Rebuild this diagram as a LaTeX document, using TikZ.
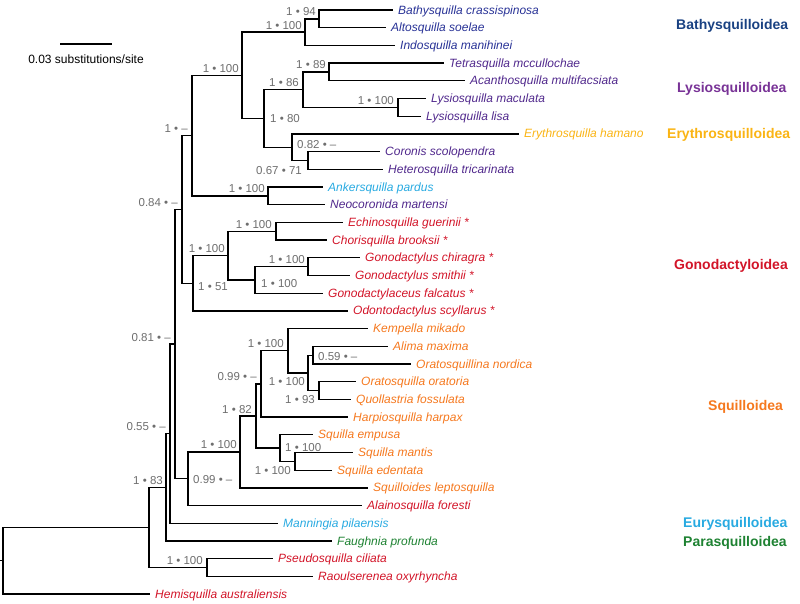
\documentclass[tikz,border=0pt]{standalone}
\usepackage{fontspec}
\setmainfont{Liberation Sans}
\usetikzlibrary{calc}
\definecolor{supgray}{RGB}{110,110,110}
\definecolor{bathyleaf}{RGB}{40,50,150}
\definecolor{bathylab}{RGB}{25,65,130}
\definecolor{lysioleaf}{RGB}{80,40,140}
\definecolor{lysiolab}{RGB}{120,50,150}
\definecolor{erythro}{RGB}{250,180,20}
\definecolor{skyb}{RGB}{40,170,225}
\definecolor{gonored}{RGB}{210,20,40}
\definecolor{squorange}{RGB}{245,120,30}
\definecolor{paragreen}{RGB}{30,130,50}
\begin{document}
\begin{tikzpicture}[x=1pt,y=-1pt,
  br/.style={line width=1.3pt},
  leaf/.style={font=\fontsize{12}{14}\selectfont\itshape, inner sep=0pt, anchor=base west},
  sup/.style={font=\fontsize{11.5}{13}\selectfont, text=supgray, inner sep=0pt},
  clade/.style={font=\fontsize{14}{16}\selectfont\bfseries, inner sep=0pt, anchor=base west}]
\useasboundingbox (0,0) rectangle (800,603);

% leaf line ends
\coordinate (l1) at (393,10);
\coordinate (l2) at (386,27.7);
\coordinate (l3) at (395,45.4);
\coordinate (l4) at (444,63.1);
\coordinate (l5) at (465,80.8);
\coordinate (l6) at (426,98.5);
\coordinate (l7) at (421,116.2);
\coordinate (l8) at (519,133.9);
\coordinate (l9) at (380,151.6);
\coordinate (l10) at (383,169.3);
\coordinate (l11) at (323,187);
\coordinate (l12) at (325,204.7);
\coordinate (l13) at (343,222.4);
\coordinate (l14) at (327,240.1);
\coordinate (l15) at (360,257.8);
\coordinate (l16) at (350,275.5);
\coordinate (l17) at (323,293.2);
\coordinate (l18) at (348,310.9);
\coordinate (l19) at (368,328.6);
\coordinate (l20) at (388,346.3);
\coordinate (l21) at (411,364);
\coordinate (l22) at (356,381.7);
\coordinate (l23) at (351,399.4);
\coordinate (l24) at (348,417.1);
\coordinate (l25) at (313,434.8);
\coordinate (l26) at (353,452.5);
\coordinate (l27) at (332,470.2);
\coordinate (l28) at (368,487.9);
\coordinate (l29) at (362,505.6);
\coordinate (l30) at (278,523.3);
\coordinate (l31) at (332,541);
\coordinate (l32) at (273,558.7);
\coordinate (l33) at (313,576.4);
\coordinate (l34) at (150,594.1);

% internal nodes
\coordinate (r0) at (0,560.8);
\coordinate (n3) at (3,560.8);
\coordinate (n149) at (149,527.45);
\coordinate (n207) at (207,567.55);
\coordinate (n166) at (166,487.35);
\coordinate (n170) at (170,433.7);
\coordinate (n175) at (175,344.1);
\coordinate (n182) at (182,209.4);
\coordinate (n192) at (192,135.55);
\coordinate (n242) at (242,75.25);
\coordinate (n305) at (305,32.1);
\coordinate (n319) at (319,18.85);
\coordinate (n264) at (264,118.4);
\coordinate (n303) at (303,89.65);
\coordinate (n329) at (329,71.95);
\coordinate (n398) at (398,107.35);
\coordinate (n292) at (292,147.2);
\coordinate (n308c) at (308,160.45);
\coordinate (n268) at (268,195.85);
\coordinate (n193) at (193,283.25);
\coordinate (n228) at (228,255.6);
\coordinate (n276) at (276,231.25);
\coordinate (n255b) at (255,279.9);
\coordinate (n308b) at (308,266.65);
\coordinate (n188) at (188,478.8);
\coordinate (n240) at (240,451.95);
\coordinate (n256) at (256,416);
\coordinate (n262) at (261,383.9);
\coordinate (n288) at (288,350.7);
\coordinate (n308) at (308,372.85);
\coordinate (n313) at (313,355.15);
\coordinate (n319b) at (319,390.55);
\coordinate (n280) at (280,448.1);
\coordinate (n295) at (295,461.35);

% branches
\draw[br] (r0) -- (n3);
\draw[br] (n3) |- (n149); \draw[br] (n3) |- (l34);
\draw[br] (n149) |- (n166); \draw[br] (n149) |- (n207);
\draw[br] (n207) |- (l32); \draw[br] (n207) |- (l33);
\draw[br] (n166) |- (n170); \draw[br] (n166) |- (l31);
\draw[br] (n170) |- (n175); \draw[br] (n170) |- (l30);
\draw[br] (n175) |- (n182); \draw[br] (n175) |- (n188);
\draw[br] (n182) |- (n192); \draw[br] (n182) |- (n193);
\draw[br] (n192) |- (n242); \draw[br] (n192) |- (n268);
\draw[br] (n242) |- (n305); \draw[br] (n242) |- (n264);
\draw[br] (n305) |- (n319); \draw[br] (n305) |- (l3);
\draw[br] (n319) |- (l1); \draw[br] (n319) |- (l2);
\draw[br] (n264) |- (n303); \draw[br] (n264) |- (n292);
\draw[br] (n303) |- (n329); \draw[br] (n303) |- (n398);
\draw[br] (n329) |- (l4); \draw[br] (n329) |- (l5);
\draw[br] (n398) |- (l6); \draw[br] (n398) |- (l7);
\draw[br] (n292) |- (l8); \draw[br] (n292) |- (n308c);
\draw[br] (n308c) |- (l9); \draw[br] (n308c) |- (l10);
\draw[br] (n268) |- (l11); \draw[br] (n268) |- (l12);
\draw[br] (n193) |- (n228); \draw[br] (n193) |- (l18);
\draw[br] (n228) |- (n276); \draw[br] (n228) |- (n255b);
\draw[br] (n276) |- (l13); \draw[br] (n276) |- (l14);
\draw[br] (n255b) |- (n308b); \draw[br] (n255b) |- (l17);
\draw[br] (n308b) |- (l15); \draw[br] (n308b) |- (l16);
\draw[br] (n188) |- (n240); \draw[br] (n188) |- (l29);
\draw[br] (n240) |- (n256); \draw[br] (n240) |- (l28);
\draw[br] (n256) |- (n262); \draw[br] (n256) |- (n280);
\draw[br] (n262) |- (n288); \draw[br] (n262) |- (l24);
\draw[br] (n288) |- (l19); \draw[br] (n288) |- (n308);
\draw[br] (n308) |- (n313); \draw[br] (n308) |- (n319b);
\draw[br] (n313) |- (l20); \draw[br] (n313) |- (l21);
\draw[br] (n319b) |- (l22); \draw[br] (n319b) |- (l23);
\draw[br] (n280) |- (l25); \draw[br] (n280) |- (n295);
\draw[br] (n295) |- (l26); \draw[br] (n295) |- (l27);

% leaf labels
\node[leaf,text=bathyleaf] (t1) at ($(l1)+(5,4)$) {Bathysquilla crassispinosa};
\node[leaf,text=bathyleaf] (t2) at ($(l2)+(5,4)$) {Altosquilla soelae};
\node[leaf,text=bathyleaf] (t3) at ($(l3)+(5,4)$) {Indosquilla manihinei};
\node[leaf,text=lysioleaf] (t4) at ($(l4)+(5,4)$) {Tetrasquilla mccullochae};
\node[leaf,text=lysioleaf] (t5) at ($(l5)+(5,4)$) {Acanthosquilla multifacsiata};
\node[leaf,text=lysioleaf] (t6) at ($(l6)+(5,4)$) {Lysiosquilla maculata};
\node[leaf,text=lysioleaf] (t7) at ($(l7)+(5,4)$) {Lysiosquilla lisa};
\node[leaf,text=erythro] (t8) at ($(l8)+(5,4)$) {Erythrosquilla hamano};
\node[leaf,text=lysioleaf] (t9) at ($(l9)+(5,4)$) {Coronis scolopendra};
\node[leaf,text=lysioleaf] (t10) at ($(l10)+(5,4)$) {Heterosquilla tricarinata};
\node[leaf,text=skyb] (t11) at ($(l11)+(5,4)$) {Ankersquilla pardus};
\node[leaf,text=lysioleaf] (t12) at ($(l12)+(5,4)$) {Neocoronida martensi};
\node[leaf,text=gonored] (t13) at ($(l13)+(5,4)$) {Echinosquilla guerinii *};
\node[leaf,text=gonored] (t14) at ($(l14)+(5,4)$) {Chorisquilla brooksii *};
\node[leaf,text=gonored] (t15) at ($(l15)+(5,4)$) {Gonodactylus chiragra *};
\node[leaf,text=gonored] (t16) at ($(l16)+(5,4)$) {Gonodactylus smithii *};
\node[leaf,text=gonored] (t17) at ($(l17)+(5,4)$) {Gonodactylaceus falcatus *};
\node[leaf,text=gonored] (t18) at ($(l18)+(5,4)$) {Odontodactylus scyllarus *};
\node[leaf,text=squorange] (t19) at ($(l19)+(5,4)$) {Kempella mikado};
\node[leaf,text=squorange] (t20) at ($(l20)+(5,4)$) {Alima maxima};
\node[leaf,text=squorange] (t21) at ($(l21)+(5,4)$) {Oratosquillina nordica};
\node[leaf,text=squorange] (t22) at ($(l22)+(5,4)$) {Oratosquilla oratoria};
\node[leaf,text=squorange] (t23) at ($(l23)+(5,4)$) {Quollastria fossulata};
\node[leaf,text=squorange] (t24) at ($(l24)+(5,4)$) {Harpiosquilla harpax};
\node[leaf,text=squorange] (t25) at ($(l25)+(5,4)$) {Squilla empusa};
\node[leaf,text=squorange] (t26) at ($(l26)+(5,4)$) {Squilla mantis};
\node[leaf,text=squorange] (t27) at ($(l27)+(5,4)$) {Squilla edentata};
\node[leaf,text=squorange] (t28) at ($(l28)+(5,4)$) {Squilloides leptosquilla};
\node[leaf,text=gonored] (t29) at ($(l29)+(5,4)$) {Alainosquilla foresti};
\node[leaf,text=skyb] (t30) at ($(l30)+(5,4)$) {Manningia pilaensis};
\node[leaf,text=paragreen] (t31) at ($(l31)+(5,4)$) {Faughnia profunda};
\node[leaf,text=gonored] (t32) at ($(l32)+(5,4)$) {Pseudosquilla ciliata};
\node[leaf,text=gonored] (t33) at ($(l33)+(5,4)$) {Raoulserenea oxyrhyncha};
\node[leaf,text=gonored] (t34) at ($(l34)+(5,4)$) {Hemisquilla australiensis};

% support values
\node[sup,anchor=base east] (s319) at ($(n319)+(-3,-3)$) {1 • 94};
\node[sup,anchor=base east] (s305) at ($(n305)+(-3,-3)$) {1 • 100};
\node[sup,anchor=base east] (s242) at ($(n242)+(-3,-3)$) {1 • 100};
\node[sup,anchor=base east] (s329) at ($(n329)+(-3,-3)$) {1 • 89};
\node[sup,anchor=base east] (s303) at ($(n303)+(-4,-3)$) {1 • 86};
\node[sup,anchor=base east] (s398) at ($(n398)+(-4,-3)$) {1 • 100};
\node[sup,anchor=base west] (s264) at ($(n264)+(6,4)$) {1 • 80};
\node[sup,anchor=base west] (s292) at ($(n292)+(5,1)$) {0.82 • –};
\node[sup,anchor=base east] (s308c) at ($(n308c)+(-6,14)$) {0.67 • 71};
\node[sup,anchor=base east] (s192) at ($(n192)+(-4,-3)$) {1 • –};
\node[sup,anchor=base east] (s268) at ($(n268)+(-3,-3)$) {1 • 100};
\node[sup,anchor=base east] (s182) at ($(n182)+(-4,-3)$) {0.84 • –};
\node[sup,anchor=base east] (s276) at ($(n276)+(-4,-3)$) {1 • 100};
\node[sup,anchor=base east] (s228) at ($(n228)+(-3,-3)$) {1 • 100};
\node[sup,anchor=base east] (s308b) at ($(n308b)+(-3,-3)$) {1 • 100};
\node[sup,anchor=base west] (s255b) at ($(n255b)+(6,8)$) {1 • 100};
\node[sup,anchor=base west] (s193) at ($(n193)+(5,7)$) {1 • 51};
\node[sup,anchor=base east] (s175) at ($(n175)+(-4,-3)$) {0.81 • –};
\node[sup,anchor=base east] (s170) at ($(n170)+(-4,-3)$) {0.55 • –};
\node[sup,anchor=base east] (s166) at ($(n166)+(-3,-3)$) {1 • 83};
\node[sup,anchor=base east] (s288) at ($(n288)+(-4,-3)$) {1 • 100};
\node[sup,anchor=base west] (s313) at ($(n313)+(5,5)$) {0.59 • –};
\node[sup,anchor=base east] (s308) at ($(n308)+(-3,13)$) {1 • 100};
\node[sup,anchor=base east] (s319b) at ($(n319b)+(-4,13)$) {1 • 93};
\node[sup,anchor=base east] (s262) at ($(n262)+(-4,-3)$) {0.99 • –};
\node[sup,anchor=base east] (s256) at ($(n256)+(-4,-3)$) {1 • 82};
\node[sup,anchor=base east] (s240) at ($(n240)+(-3,-3)$) {1 • 100};
\node[sup,anchor=base west] (s280) at ($(n280)+(5,3)$) {1 • 100};
\node[sup,anchor=base east] (s295) at ($(n295)+(-4,13)$) {1 • 100};
\node[sup,anchor=base west] (s188) at ($(n188)+(5,5)$) {0.99 • –};
\node[sup,anchor=base east] (s207) at ($(n207)+(-4,-3)$) {1 • 100};

% scale bar
\coordinate (sb1) at (60,44);
\coordinate (sb2) at (112,44);
\draw[br] (sb1) -- (sb2);
\node[font=\fontsize{12}{14}\selectfont, inner sep=0pt, anchor=base] (sbt) at (86,63) {0.03 substitutions/site};

% clade names
\node[clade,text=bathylab] (c1) at (676,29) {Bathysquilloidea};
\node[clade,text=lysiolab] (c2) at (677,92) {Lysiosquilloidea};
\node[clade,text=erythro] (c3) at (667,138) {Erythrosquilloidea};
\node[clade,text=gonored] (c4) at (674,269) {Gonodactyloidea};
\node[clade,text=squorange] (c5) at (708,410) {Squilloidea};
\node[clade,text=skyb] (c6) at (683,527) {Eurysquilloidea};
\node[clade,text=paragreen] (c7) at (683,546) {Parasquilloidea};
\end{tikzpicture}
\end{document}
